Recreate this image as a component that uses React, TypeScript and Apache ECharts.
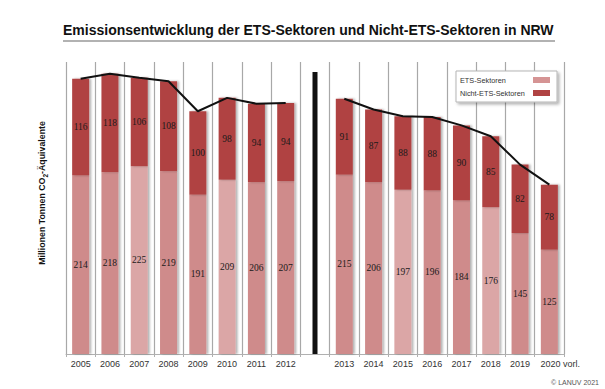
import React, { useEffect, useRef } from "react";
import * as echarts from "echarts";

const CATEGORIES = ["2005", "2006", "2007", "2008", "2009", "2010", "2011", "2012", "", "2013", "2014", "2015", "2016", "2017", "2018", "2019", "2020 vorl."];
const ETS = [214, 218, 225, 219, 191, 209, 206, 207, null, 215, 206, 197, 196, 184, 176, 145, 125];
const NON_ETS = [116, 118, 106, 108, 100, 98, 94, 94, null, 91, 87, 88, 88, 90, 85, 82, 78];
const TOTAL = [330, 336, 331, 327, 291, 307, 300, 301, null, 306, 293, 285, 284, 274, 261, 227, 203];
const LIGHT_YEARS = ["2007", "2010", "2015", "2018"];
const SEPARATOR_INDEX = 8;
const SEPARATOR_HEIGHT = 338;
const Y_MAX = 350;

const ETS_COLOR = "#cf8b8b";
const ETS_LIGHT = "#dba6a6";
const NON_ETS_COLOR = "#b04343";

export default function App() {
  const ref = useRef<HTMLDivElement>(null);
  useEffect(() => {
    if (!ref.current) return;
    const chart = echarts.init(ref.current, undefined, { renderer: "svg" });
    const shadow = { shadowBlur: 2, shadowOffsetX: 2, shadowOffsetY: 0, shadowColor: "rgba(0,0,0,0.3)" };
    const labelStyle = {
      show: true,
      position: "inside" as const,
      fontSize: 9.5,
      fontFamily: "Liberation Serif",
      color: "#1a1a1a",
    };
    const etsData = ETS.map((v, i) =>
      v == null
        ? "-"
        : {
            value: v,
            itemStyle: { color: LIGHT_YEARS.includes(CATEGORIES[i]) ? ETS_LIGHT : ETS_COLOR },
          }
    );
    const nonEtsData = NON_ETS.map((v) => (v == null ? "-" : v));
    const lineData = TOTAL.map((v) => (v == null ? "-" : v));
    const sepData = CATEGORIES.map((_, i) => (i === SEPARATOR_INDEX ? SEPARATOR_HEIGHT : "-"));

    chart.setOption({
      animation: false,
      title: {
        text: "Emissionsentwicklung der ETS-Sektoren und Nicht-ETS-Sektoren in NRW",
        left: 63,
        top: 23,
        padding: 0,
        textStyle: { fontSize: 14, fontWeight: "bold", fontFamily: "Liberation Sans", color: "#111" },
      },
      grid: { left: 66, right: 41, top: 62, bottom: 35, containLabel: false },
      legend: {
        orient: "vertical",
        left: 456,
        top: 71,
        align: "right",
        icon: "rect",
        itemWidth: 17,
        itemHeight: 6,
        itemGap: 3,
        padding: [4, 7, 4, 4],
        backgroundColor: "#fff",
        borderColor: "#b5b5b5",
        borderWidth: 1,
        shadowBlur: 3,
        shadowColor: "rgba(0,0,0,0.3)",
        shadowOffsetX: 2,
        shadowOffsetY: 2,
        formatter: "{a|{name}}",
        textStyle: {
          fontSize: 7.3,
          fontFamily: "Liberation Sans",
          color: "#333",
          lineHeight: 10,
          rich: { a: { width: 68, align: "left", fontSize: 7.3, fontFamily: "Liberation Sans", color: "#333", lineHeight: 10 } },
        },
        data: [
          { name: "ETS-Sektoren", itemStyle: { color: "#d59494" } },
          { name: "Nicht-ETS-Sektoren", itemStyle: { color: NON_ETS_COLOR } },
        ],
      },
      xAxis: [
        {
          type: "category",
          data: CATEGORIES,
          axisLine: { show: true, lineStyle: { color: "#b0b0b0", width: 1 } },
          axisTick: { show: true, length: 3, lineStyle: { color: "#b0b0b0" } },
          splitLine: { show: true, lineStyle: { color: "#a8a8a8", width: 1.2 } },
          axisLabel: {
            fontSize: 9,
            fontFamily: "Liberation Sans",
            color: "#333",
            margin: 5,
            interval: 0,
            formatter: (v: string) => (v.indexOf(" ") > 0 ? "{s|}{t|" + v + "}" : v),
            rich: {
              s: { width: 22 },
              t: { fontSize: 9, fontFamily: "Liberation Sans", color: "#333" },
            },
          },
        },
        { type: "category", data: CATEGORIES, show: false },
      ],
      yAxis: {
        type: "value",
        min: 0,
        max: Y_MAX,
        axisLabel: { show: false },
        axisLine: { show: false },
        axisTick: { show: false },
        splitLine: { show: false },
      },
      graphic: [
        {
          type: "line",
          shape: { x1: 63, y1: 41, x2: 555, y2: 41 },
          style: { stroke: "#999", lineWidth: 1.5 },
        },
        {
          type: "text",
          x: 42,
          y: 193,
          rotation: Math.PI / 2,
          style: {
            text: "Millionen Tonnen CO{s|2}-Äquivalente",
            fontSize: 8.8,
            fontWeight: "bold",
            fontFamily: "Liberation Sans",
            fill: "#111",
            align: "center",
            verticalAlign: "middle",
            rich: { s: { fontSize: 6.5, fontWeight: "bold", fontFamily: "Liberation Sans", fill: "#111", verticalAlign: "bottom", lineHeight: 13 } },
          },
        },
        {
          type: "text",
          x: 599,
          y: 382,
          style: {
            text: "© LANUV 2021",
            fontSize: 7,
            fontFamily: "Liberation Sans",
            fill: "#555",
            align: "right",
            verticalAlign: "middle",
          },
        },
      ],
      series: [
        {
          name: "ETS-Sektoren",
          type: "bar",
          stack: "total",
          barWidth: 17,
          itemStyle: { color: ETS_COLOR, ...shadow },
          label: labelStyle,
          data: etsData,
        },
        {
          name: "Nicht-ETS-Sektoren",
          type: "bar",
          stack: "total",
          barWidth: 17,
          itemStyle: { color: NON_ETS_COLOR, ...shadow },
          label: labelStyle,
          data: nonEtsData,
        },
        {
          name: "Trennlinie",
          type: "bar",
          xAxisIndex: 1,
          barWidth: 5,
          silent: true,
          itemStyle: { color: "#111" },
          data: sepData,
        },
        {
          name: "Gesamt",
          type: "line",
          symbol: "none",
          connectNulls: false,
          lineStyle: { color: "#111", width: 2 },
          z: 5,
          data: lineData,
        },
      ],
    });
    return () => chart.dispose();
  }, []);
  return <div ref={ref} style={{ position: "absolute", left: 0, top: 0, width: 605, height: 389 }} />;
}
